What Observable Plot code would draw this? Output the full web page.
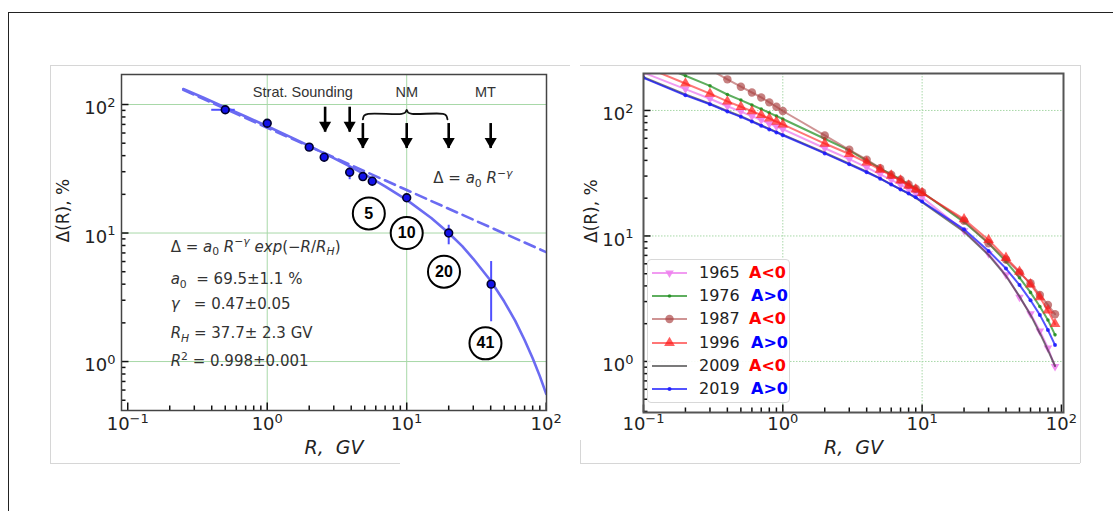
<!DOCTYPE html>
<html><head><meta charset="utf-8">
<script src="https://cdn.jsdelivr.net/npm/d3@7"></script>
<script src="https://cdn.jsdelivr.net/npm/@observablehq/plot@0.6"></script>
<style>
body{margin:0;background:#fff;}
#wrap{position:relative;width:1113px;height:511px;overflow:hidden;background:#fff;font-family:"DejaVu Sans",sans-serif;}
.ab{position:absolute;}
svg text{white-space:pre;}
</style></head><body><div id="wrap"></div>
<script>
// ---------- LEFT PANEL DATA ----------
const obsR   = [0.5, 1.0, 2.0, 2.56, 3.9, 4.85, 5.66, 10, 20, 40.3];
const obsD   = [91, 71.5, 46.6, 38.9, 29.7, 27.5, 25.3, 18.8, 10.0, 4.0];
const obsDlo = [91, 71.5, 44.5, 35.8, 26.0, 25.8, 23.4, 18.8, 8.1, 2.04];
const obsDhi = [91, 71.5, 48.5, 41.5, 33.0, 29.5, 27.3, 18.8, 11.5, 6.0];
const obsRlo = [0.40, 1.0, 2.0, 2.56, 3.9, 4.85, 5.66, 10, 20, 40.3];
const obsRhi = [0.59, 1.0, 2.0, 2.56, 3.9, 4.85, 5.66, 10, 20, 40.3];

const fitR = [0.25, 0.35, 0.5, 0.7, 1, 1.5, 2, 3, 4, 5, 7, 10, 15, 20, 25, 30, 40, 50, 60, 70, 80, 90, 100];
const fitD = [132, 112.8, 95, 80.7, 67.7, 55.2, 47.6, 38.3, 32.6, 28.6, 23.1, 18.1, 13.1, 10.0, 7.9, 6.3, 4.25, 2.93, 2.07, 1.47, 1.06, 0.77, 0.56];
const powR = [0.25, 1, 10, 100];
const powD = [130, 66, 21.6, 7.1];

const arrowR   = [2.6, 3.9, 4.85, 10, 20, 40];
const arrowTop = [95.3, 95.3, 71.1, 71.1, 71.1, 71.1];
const arrowTip = [60.9, 60.9, 45.5, 45.5, 45.5, 45.5];
const braceR = [4.85, 4.95, 5.3, 9.2, 9.75, 10, 10.25, 10.9, 18.2, 19.2, 19.6];
const braceD = [76.5, 82, 84.6, 84.6, 86.5, 90.9, 86.5, 84.6, 84.6, 82, 76.5];

const regionLabels = ["Strat. Sounding", "NM", "MT"];
const regionR = [1.8, 10, 36.7];
const circLabels = ["5", "10", "20", "41"];
const circR = [5.35, 10, 18.5, 36.7];
const circD = [14.2, 10, 5.0, 1.385];
const fitLines = [
  "Δ = *a*_{0} *R*^{−*γ*} *exp*(−*R*/*R*_{*H*})",
  "*a*_{0}  = 69.5±1.1 %",
  "*γ*   = 0.47±0.05",
  "*R*_{*H*} = 37.7± 2.3 GV",
  "*R*^{2} = 0.998±0.001"
];
const fitLineD = [7.82, 4.36, 2.80, 1.66, 1.0];
const powLabel = "Δ = *a*_{0} *R*^{−*γ*}";

// ---------- RIGHT PANEL DATA ----------
const rR = [0.1,0.2,0.3,0.4,0.5,0.6,0.7,0.8,0.9,1,2,3,4,5,6,7,8,9,10,20,30,40,50,60,70,80,90];
const d1965 = [200,148,124,108,98,90,84,78.5,74.5,71,50,41,35.2,31,28,25.6,23.5,21.8,20.3,11.0,7.2,4.9,3.25,2.4,1.75,1.28,0.91];
const d1976 = [255,189,157,134,121,110.5,102.5,95.8,90.3,85.5,59.5,48,39.8,34.6,31,28.2,25.8,24,22.3,12.9,8.75,6.24,4.65,3.55,2.74,2.14,1.63];
const d1987 = [410,270,212,177,154.5,139,127,116,107,99,63.2,48.6,40.5,34.7,30.7,28.1,25.7,23.8,22.3,13.2,8.75,6.5,5.1,4.2,3.39,2.82,2.38];
const d1996 = [225,164,136,118,107,98.7,92,86.4,81.5,77.5,54.5,45,38.5,33.7,30.3,27.7,25.2,23.5,22,13.6,9.3,6.7,5.2,4.12,3.25,2.55,1.99];
const d2009 = [184,134,113,99,90,82.3,76.2,71.3,67.5,64.2,46,37.6,32.5,28.8,25.8,23.5,21.7,20.1,18.6,10.8,7.05,4.8,3.3,2.35,1.68,1.23,0.92];
const d2019 = [182,132,112,98,89,81.5,75.5,70.6,66.8,63.5,45.5,37.2,32.2,28.6,25.7,23.5,21.8,20.3,18.8,11.3,7.6,5.5,4.07,3.07,2.35,1.78,1.35];
const years = ["1965","1976","1987","1996","2009","2019"];
const signs = ["A<0","A>0","A<0","A>0","A<0","A>0"];
const seriesVals = [d1965, d1976, d1987, d1996, d2009, d2019];

// ---------- TICKS ----------
const xMajor = [0.1, 1, 10, 100];
const xMinor = [0.2,0.3,0.4,0.5,0.6,0.7,0.8,0.9,2,3,4,5,6,7,8,9,20,30,40,50,60,70,80,90];
const yMajor = [1, 10, 100];
const yMinorL = [0.5,0.6,0.7,0.8,0.9,2,3,4,5,6,7,8,9,20,30,40,50,60,70,80,90];
const yMinorR = [0.4,0.5,0.6,0.7,0.8,0.9,2,3,4,5,6,7,8,9,20,30,40,50,60,70,80,90];

// ---------- helpers ----------
const triDown = {draw(ctx, size){const y=Math.sqrt(size/(3*Math.sqrt(3)));ctx.moveTo(0,2*y);ctx.lineTo(-Math.sqrt(3)*y,-y);ctx.lineTo(Math.sqrt(3)*y,-y);ctx.closePath();}};
const arrowHead = {draw(ctx, size){const s=Math.sqrt(4*size/Math.sqrt(3));const h=s*Math.sqrt(3)/2;ctx.moveTo(0,0);ctx.lineTo(-s/2,-h);ctx.lineTo(s/2,-h);ctx.closePath();}};
const pow10 = d => { const e = Math.round(Math.log10(d)); return "10^{" + (e < 0 ? "−" + (-e) : e) + "}"; };

function rich(svg){
  svg.querySelectorAll("text").forEach(t => {
    const s = t.textContent;
    if (!/[\^_]\{|\*/.test(s)) return;
    const fs = parseFloat(getComputedStyle(t).fontSize) || 15;
    const parts = [];
    const re = /([\^_])\{([^}]*)\}/g; let last = 0, m;
    const pushItal = (str, script) => {
      const sp = str.split("*");
      sp.forEach((txt, k) => { if (txt.length) parts.push({txt, ital: k % 2 === 1, script}); });
    };
    while ((m = re.exec(s))) { if (m.index > last) pushItal(s.slice(last, m.index), null); pushItal(m[2], m[1]); last = re.lastIndex; }
    if (last < s.length) pushItal(s.slice(last), null);
    while (t.firstChild) t.removeChild(t.firstChild);
    let shift = 0;
    parts.forEach(p => {
      const ts = document.createElementNS("http://www.w3.org/2000/svg", "tspan");
      const target = p.script === "^" ? -0.42*fs : p.script === "_" ? 0.25*fs : 0;
      if (target !== shift) ts.setAttribute("dy", (target - shift).toFixed(2));
      shift = target;
      if (p.script) ts.setAttribute("font-size", (0.72*fs).toFixed(1));
      if (p.ital) ts.setAttribute("font-style", "italic");
      ts.textContent = p.txt;
      t.appendChild(ts);
    });
  });
}

const wrap = document.getElementById("wrap");
function box(l,t,w,h,css){const d=document.createElement("div");d.className="ab";d.style.cssText=`left:${l}px;top:${t}px;width:${w}px;height:${h}px;${css}`;wrap.appendChild(d);return d;}
// outer frame lines
box(8,12,1105,0,"border-top:1.5px solid #222;");
box(8,12,0,499,"border-left:1.5px solid #222;");
// panel borders
box(50,65,520,0,"border-top:1px solid #d6d6d6;");
box(50,65,0,398,"border-left:1px solid #d6d6d6;");
box(50,463,350,0,"border-top:1px solid #d6d6d6;");
box(580,65,500,0,"border-top:1px solid #d6d6d6;");
box(1080,65,0,398,"border-left:1px solid #d6d6d6;");
box(580,463,500,0,"border-top:1px solid #d6d6d6;");
box(580,440,0,23,"border-left:1px solid #d6d6d6;");

const font = "DejaVu Sans";
const gridCol = "#a8d8a8";

// ---------- LEFT PLOT ----------
{
  const W=520,H=400,mL=71,mR=24,mT=9,mB=55, fW=W-mL-mR, fH=H-mT-mB;
  const obs = obsR.map((r,i)=>({R:r, D:obsD[i], lo:obsDlo[i], hi:obsDhi[i], rlo:obsRlo[i], rhi:obsRhi[i]}));
  const fit = fitR.map((r,i)=>({R:r, D:fitD[i]}));
  const pw = powR.map((r,i)=>({R:r, D:powD[i]}));
  const arrows = arrowR.map((r,i)=>({R:r, top:arrowTop[i], tip:arrowTip[i]}));
  const brace = braceR.map((r,i)=>({R:r, D:braceD[i]}));
  const circ = circLabels.map((l,i)=>({l, R:circR[i], D:circD[i]}));
  const fl = fitLines.map((l,i)=>({l, D:fitLineD[i]}));
  const p = Plot.plot({
    width:W, height:H, marginLeft:mL, marginRight:mR, marginTop:mT, marginBottom:mB,
    style:{fontFamily:font, background:"transparent", overflow:"visible"},
    x:{type:"log", domain:[0.0902, 100.5], axis:null},
    y:{type:"log", domain:[0.416, 171.2], axis:null},
    marks:[
      Plot.ruleX([1,10], {stroke:gridCol, strokeWidth:1}),
      Plot.ruleY(yMajor, {stroke:gridCol, strokeWidth:1}),
      Plot.tickX(xMinor, {x:d=>d, stroke:"#111", strokeWidth:1.5, insetTop:fH-4.5}),
      Plot.tickX(xMajor, {x:d=>d, stroke:"#111", strokeWidth:1.5, insetTop:fH-7.5}),
      Plot.tickY(yMinorL, {y:d=>d, stroke:"#111", strokeWidth:1.5, insetRight:fW-4.5}),
      Plot.tickY(yMajor, {y:d=>d, stroke:"#111", strokeWidth:1.5, insetRight:fW-7.5}),
      Plot.line(pw, {x:"R", y:"D", stroke:"#6b6bf2", strokeWidth:2.6, strokeDasharray:"11,6", clip:true}),
      Plot.line(fit, {x:"R", y:"D", stroke:"#6b6bf2", strokeWidth:2.6, clip:true}),
      Plot.ruleX(obs, {x:"R", y1:"lo", y2:"hi", stroke:"#5050ff", strokeWidth:2}),
      Plot.ruleY(obs, {y:"D", x1:"rlo", x2:"rhi", stroke:"#5050ff", strokeWidth:2}),
      Plot.dot(obs, {x:"R", y:"D", r:3.9, fill:"#1212e8", stroke:"#00002a", strokeWidth:1.6}),
      Plot.ruleX(arrows, {x:"R", y1:"top", y2:"tip", stroke:"#000", strokeWidth:2.6}),
      Plot.dot(arrows, {x:"R", y:"tip", symbol:arrowHead, r:4.5, fill:"#000", stroke:"none"}),
      Plot.line(brace, {x:"R", y:"D", stroke:"#111", strokeWidth:1.8, curve:"catmull-rom"}),
      Plot.text(regionLabels, {x:(d,i)=>regionR[i], y:()=>124.6, text:d=>d, fontSize:14.5, fontFamily:"Liberation Sans", fill:"#333"}),
      Plot.dot(circ, {x:"R", y:"D", r:16, fill:"white", stroke:"#000", strokeWidth:2}),
      Plot.text(circ, {x:"R", y:"D", text:"l", fontSize:16, fontWeight:"bold", fontFamily:"Liberation Sans", fill:"#000"}),
      Plot.text([powLabel], {x:()=>15.5, y:()=>26.5, text:d=>d, textAnchor:"start", fontSize:15, fill:"#333"}),
      Plot.text(fl, {x:()=>0.203, y:"D", text:"l", textAnchor:"start", fontSize:15, fill:"#333"}),
      Plot.text(xMajor, {x:d=>d, frameAnchor:"bottom", lineAnchor:"middle", dy:14, text:pow10, fontSize:18, fill:"#222"}),
      Plot.text(yMajor, {y:d=>d, frameAnchor:"left", lineAnchor:"middle", dx:-6, dy:4, text:pow10, textAnchor:"end", fontSize:18, fill:"#222"}),
      Plot.text(["Δ(R), %"], {frameAnchor:"left", lineAnchor:"middle", dx:-58, rotate:-90, text:d=>d, fontSize:17, fill:"#222"}),
      Plot.text(["R,  GV"], {frameAnchor:"bottom", lineAnchor:"middle", dy:37, text:d=>d, fontSize:19, fontStyle:"italic", fill:"#222"}),
      Plot.frame({stroke:"#444", strokeWidth:1.5})
    ]
  });
  p.style.position="absolute"; p.style.left="50px"; p.style.top="65px";
  wrap.appendChild(p); rich(p);
}

// ---------- RIGHT PLOT ----------
const rStyles = [
  {c:"#ee82ee", op:0.8, sym:triDown, r:3.2},
  {c:"#1a8c1a", op:0.7, sym:"circle", r:1.8},
  {c:"#a83c3c", op:0.55, sym:"circle", r:4.2},
  {c:"#ff1a1a", op:0.6, sym:"triangle", r:4},
  {c:"#222222", op:0.6, sym:null, r:0},
  {c:"#1a1aff", op:0.75, sym:"circle", r:2}
];
{
  const W=500,H=398,mL=63,mR=17,mT=8,mB=51, fW=W-mL-mR, fH=H-mT-mB;
  const marks = [
    Plot.ruleX([1,10], {stroke:gridCol, strokeWidth:1, strokeDasharray:"1.5,1.5"}),
    Plot.ruleY(yMajor, {stroke:gridCol, strokeWidth:1, strokeDasharray:"1.5,1.5"}),
    Plot.tickX(xMinor, {x:d=>d, stroke:"#111", strokeWidth:1.5, insetTop:fH-4.5}),
    Plot.tickX(xMajor, {x:d=>d, stroke:"#111", strokeWidth:1.5, insetTop:fH-7.5}),
    Plot.tickY(yMinorR, {y:d=>d, stroke:"#111", strokeWidth:1.5, insetRight:fW-4.5}),
    Plot.tickY(yMajor, {y:d=>d, stroke:"#111", strokeWidth:1.5, insetRight:fW-7.5})
  ];
  seriesVals.forEach((vals, k) => {
    const st = rStyles[k];
    const rows = rR.map((r,i)=>({R:r, D:vals[i]}));
    marks.push(Plot.line(rows, {x:"R", y:"D", stroke:st.c, strokeOpacity:st.op, strokeWidth:2, clip:true}));
    if (st.sym) marks.push(Plot.dot(rows, {x:"R", y:"D", symbol:st.sym, r:st.r, fill:st.c, fillOpacity:Math.min(1,st.op+0.1), stroke:"none", clip:true}));
  });
  marks.push(
    Plot.text(xMajor, {x:d=>d, frameAnchor:"bottom", lineAnchor:"middle", dy:12, text:pow10, fontSize:18, fill:"#222"}),
    Plot.text(yMajor, {y:d=>d, frameAnchor:"left", lineAnchor:"middle", dx:-10, dy:4, text:pow10, textAnchor:"end", fontSize:18, fill:"#222"}),
    Plot.text(["Δ(R), %"], {frameAnchor:"left", lineAnchor:"middle", dx:-52, rotate:-90, text:d=>d, fontSize:17, fill:"#222"}),
    Plot.text(["R,  GV"], {frameAnchor:"bottom", lineAnchor:"middle", dy:35, text:d=>d, fontSize:19, fontStyle:"italic", fill:"#222"}),
    Plot.frame({stroke:"#555", strokeWidth:2})
  );
  const p = Plot.plot({
    width:W, height:H, marginLeft:mL, marginRight:mR, marginTop:mT, marginBottom:mB,
    style:{fontFamily:font, background:"transparent", overflow:"visible"},
    x:{type:"log", domain:[0.1, 103.5], axis:null},
    y:{type:"log", domain:[0.392, 197], axis:null},
    marks
  });
  p.style.position="absolute"; p.style.left="580px"; p.style.top="65px";
  wrap.appendChild(p); rich(p);
}

// ---------- LEGEND ----------
{
  const lg = box(647,259,143,144,"border:1px solid #d8d8d8;border-radius:4px;background:rgba(255,255,255,0.9);box-sizing:border-box;");
  years.forEach((y, i) => {
    const st = rStyles[i];
    const cy = 12.7 + 23.3*i;
    const svg = d3.create("svg").attr("width",36).attr("height",14)
      .style("position","absolute").style("left","4px").style("top",(cy-7)+"px");
    svg.append("line").attr("x1",0).attr("x2",35).attr("y1",7).attr("y2",7)
      .attr("stroke",st.c).attr("stroke-opacity",st.op).attr("stroke-width",2);
    if (st.sym) {
      const type = st.sym === "circle" ? d3.symbolCircle : st.sym === "triangle" ? d3.symbolTriangle : st.sym;
      svg.append("path").attr("transform","translate(17.5,7)")
        .attr("d", d3.symbol().type(type).size(Math.PI*st.r*st.r)())
        .attr("fill",st.c).attr("fill-opacity",Math.min(1,st.op+0.1));
    }
    lg.appendChild(svg.node());
    const t = document.createElement("div");
    t.style.cssText = `position:absolute;left:51px;top:${cy-10}px;line-height:20px;font-size:16px;color:#222;font-family:'DejaVu Sans';`;
    t.textContent = y; lg.appendChild(t);
    const a = document.createElement("div");
    const isNeg = signs[i] === "A<0";
    a.style.cssText = `position:absolute;left:${isNeg?101:103}px;top:${cy-10}px;line-height:20px;font-size:16px;font-weight:bold;color:${isNeg?"#ff0000":"#0000ff"};font-family:'DejaVu Sans';`;
    a.textContent = signs[i]; lg.appendChild(a);
  });
}
</script></body></html>
